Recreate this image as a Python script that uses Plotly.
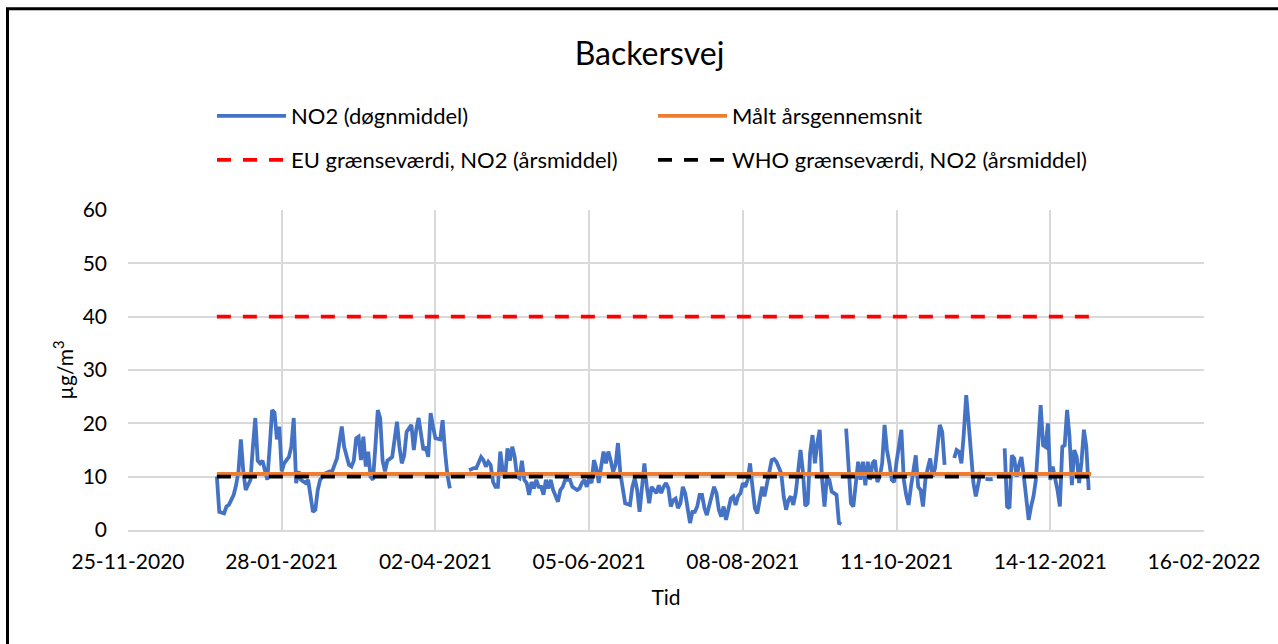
import pandas as pd
import plotly.graph_objects as go

# ---------------- data ----------------
station = "Backersvej"

day_of_year = [
    0, 1, 3, 4, 5, 7, 8, 9, 10, 11, 12, 14, 15, 16, 17, 18, 19, 21, 22, 23, 24, 25, 26, 27, 28,
    30, 31, 32, 33, 34, 35, 37, 38, 40, 41, 42, 43, 45, 47, 48, 50, 52, 53, 55, 56, 57, 58, 59,
    60, 61, 62, 63, 64, 65, 66, 67, 68, 69, 70, 71, 73, 74, 75, 76, 77, 78, 79, 81, 82, 83, 84,
    86, 87, 88, 89, 90, 91, 93, 94, 95, 96, 97, 100,
    105, 107, 108, 110, 111, 112, 113, 114, 115, 116, 117, 118, 119, 120, 121, 122, 123, 124,
    125, 126, 127, 128, 129, 130, 131, 132, 133, 134, 135, 136, 137, 138, 139, 140, 142, 143,
    144, 145, 147, 148, 150, 151, 152, 153, 154, 155, 156, 157, 158, 159, 160, 161, 162, 163,
    164, 165, 166, 167, 168, 169, 170, 172, 173, 174, 175, 176, 177, 178, 179, 180, 181, 182,
    183, 184, 185, 186, 187, 188, 189, 190, 191, 192, 193, 194, 195, 196, 197, 198, 199, 200,
    201, 202, 203, 204, 205, 207, 208, 209, 210, 211, 212, 213, 214, 215, 216, 217, 218, 219,
    220, 221, 222, 223, 224, 225, 226, 227, 228, 229, 230, 231, 232, 233, 235, 236, 237, 238,
    239, 240, 241, 242, 243, 244, 245, 246, 247, 248, 249, 250, 251, 252, 253, 254, 255, 256,
    257, 258, 259, 260, 261,
    262, 263, 264, 265, 266, 267, 268, 269, 270, 271, 272, 273, 274, 275, 276, 277, 278, 279,
    280, 281, 282, 283, 285, 286, 287, 288, 289, 290, 291, 292, 293, 294, 295, 296, 297, 298,
    299, 300, 301, 302, 303, 305,
    307, 308, 309, 310, 311, 312, 313, 314, 315, 316, 317, 318, 319,
    320, 321, 322, 323, 325,
    328, 329, 330, 331, 332, 333, 334, 335, 336, 338, 339, 340, 341, 342, 343, 344, 345, 346,
    347, 348, 349, 350, 351, 352, 353, 354, 355, 356, 357, 358, 359, 360, 361, 362, 363,
]

no2_daily = [
    10.0, 3.4, 3.1, 4.4, 4.7, 6.6, 8.4, 11.0, 17.0, 11.0, 7.5, 9.4, 15.6, 21.0, 13.0, 12.5, 13.0, 9.4, 15.6, 22.5, 22.0, 17.0, 19.4, 11.0, 12.5,
    13.7, 15.6, 21.0, 8.8, 11.0, 9.4, 8.8, 9.4, 3.4, 3.8, 7.5, 9.4, 10.6, 11.0, 11.0, 13.4, 19.4, 15.6, 12.2, 11.9, 13.0, 17.2, 17.5,
    13.1, 17.5, 11.9, 14.7, 10.0, 9.4, 15.6, 22.5, 21.0, 13.0, 11.0, 13.0, 13.7, 17.0, 20.3, 15.6, 12.5, 14.0, 18.4, 19.7, 15.0, 18.8, 21.0,
    15.0, 15.6, 13.7, 21.9, 19.4, 17.2, 17.0, 20.6, 14.7, 10.3, 7.8, None,
    11.2, 11.6, 11.6, 13.7, 13.1, 11.9, 12.8, 12.2, 9.0, 8.1, 8.1, 14.7, 11.2, 9.7, 15.3, 13.0, 15.6, 13.7,
    10.0, 9.7, 13.0, 9.4, 8.8, 6.6, 9.0, 7.8, 9.4, 8.1, 8.1, 6.6, 9.4, 7.8, 9.4, 7.5, 5.3, 7.5,
    8.1, 9.4, 9.4, 8.1, 7.5, 7.8, 8.8, 9.4, 8.1, 9.7, 8.8, 13.1, 11.6, 8.8, 11.9, 14.7, 12.5, 14.7,
    13.0, 10.9, 12.2, 16.3, 10.6, 7.5, 5.0, 4.7, 8.1, 9.7, 7.5, 3.4, 7.5, 12.5, 8.1, 5.0, 8.1, 7.5,
    6.9, 8.4, 6.9, 8.1, 8.8, 7.8, 4.4, 5.6, 5.9, 4.1, 5.0, 8.1, 6.9, 4.1, 1.3, 3.4, 3.4, 4.4,
    6.6, 6.6, 4.1, 2.8, 4.7, 8.1, 6.9, 3.8, 2.5, 4.4, 1.9, 4.1, 5.9, 6.3, 4.7, 6.3, 6.9, 8.8,
    8.1, 9.4, 12.5, 8.1, 4.1, 3.1, 5.6, 8.1, 6.3, 8.8, 10.6, 13.1, 13.3, 12.8, 10.6, 6.3, 3.8, 5.6,
    6.3, 4.7, 6.9, 11.9, 15.0, 11.0, 4.5, 5.0, 14.4, 17.8, 12.5, 16.3, 18.8, 9.4, 4.4, 10.0, 9.4, 7.2,
    6.9, 6.6, 1.3, 1.1, None,
    19.0, 10.6, 5.0, 4.4, 8.1, 12.8, 9.4, 12.8, 8.4, 12.8, 9.4, 12.5, 13.1, 9.0, 10.0, 12.5, 19.7, 15.0,
    12.5, 9.4, 9.0, 12.8, 18.8, 9.4, 6.6, 4.7, 8.1, 11.2, 14.0, 8.1, 7.5, 4.4, 9.4, 11.6, 13.4, 10.0,
    11.6, 15.6, 19.7, 18.4, 12.2, None,
    13.5, 15.0, 14.7, 12.5, 18.1, 25.3, 20.0, 13.7, 8.8, 6.3, 8.8, 10.9, None,
    9.6, 9.5, 9.5, 9.6, None,
    15.3, 4.4, 4.1, 14.0, 13.4, 10.0, 12.2, 13.7, 10.0, 1.9, 4.4, 6.3, 9.4, 15.6, 23.4, 15.9, 15.6, 20.0,
    9.4, 11.9, 10.0, 7.5, 4.4, 15.6, 15.9, 22.5, 17.5, 8.4, 15.0, 13.7, 8.8, 12.8, 18.8, 15.6, 7.5,
]

year_start = "2021-01-01"
year_end = "2021-12-31"
annual_mean = 10.5   # Målt årsgennemsnit
eu_limit = 40        # EU grænseværdi
who_limit = 10       # WHO grænseværdi

series_names = [
    "NO2 (døgnmiddel)",
    "Målt årsgennemsnit",
    "EU grænseværdi, NO2 (årsmiddel)",
    "WHO grænseværdi, NO2 (årsmiddel)",
]

x_axis_start = "2020-11-25"
x_axis_end = "2022-02-16"
x_tick_step_days = 64
y_max = 60
y_tick_step = 10

# ---------------- figure ----------------
dates = pd.Timestamp(year_start) + pd.to_timedelta(day_of_year, unit="D")
span = [year_start, year_end]

FONT = "Lato, 'Open Sans', sans-serif"
BLUE = "#4472C4"
ORANGE = "#ED7D31"
RED = "#FF0000"
BLACK = "#000000"
GRID = "#D9D9D9"
LW = 3.8

fig = go.Figure()
fig.add_trace(go.Scatter(x=dates, y=no2_daily, mode="lines", name=series_names[0],
                         line=dict(color=BLUE, width=LW), connectgaps=False, legend="legend"))
fig.add_trace(go.Scatter(x=span, y=[annual_mean] * 2, mode="lines", name=series_names[1],
                         line=dict(color=ORANGE, width=LW), legend="legend"))
fig.add_trace(go.Scatter(x=span, y=[eu_limit] * 2, mode="lines", name=series_names[2],
                         line=dict(color=RED, width=LW, dash="14px,12px"), legend="legend2"))
fig.add_trace(go.Scatter(x=span, y=[who_limit] * 2, mode="lines", name=series_names[3],
                         line=dict(color=BLACK, width=LW, dash="14px,12px"), legend="legend2"))

W, H = 1278, 644
L, R, T, B = 128, 74, 210, 114
plot_w = W - L - R
plot_h = H - T - B


def px_x(px):
    return (px - L) / plot_w


def px_y(py):
    return (H - B - py) / plot_h


legend_common = dict(
    orientation="h",
    xanchor="left",
    yanchor="middle",
    x=px_x(212),
    font=dict(family=FONT, size=22, color="black"),
    itemwidth=69,
    entrywidth=357,
    entrywidthmode="pixels",
    bgcolor="rgba(0,0,0,0)",
    borderwidth=0,
    itemclick=False,
    itemdoubleclick=False,
)

fig.update_layout(
    width=W,
    height=H,
    margin=dict(l=L, r=R, t=T, b=B, autoexpand=False),
    paper_bgcolor="white",
    plot_bgcolor="white",
    font=dict(family=FONT, size=21, color="#000000"),
    title=dict(text=station, x=649.5 / W, xanchor="center", xref="container",
               y=1 - 54 / H, yanchor="middle", yref="container",
               font=dict(family=FONT, size=32, color="black")),
    showlegend=True,
    legend=dict(**legend_common, y=px_y(116)),
    legend2=dict(**legend_common, y=px_y(160)),
    xaxis=dict(
        type="date",
        range=[x_axis_start, x_axis_end],
        tick0=x_axis_start,
        dtick=x_tick_step_days * 86400000,
        tickformat="%d-%m-%Y",
        showgrid=True,
        gridcolor=GRID,
        gridwidth=1.5,
        showline=True,
        linecolor=GRID,
        linewidth=1.5,
        zeroline=False,
        ticks="",
        ticklabelstandoff=12,
        tickfont=dict(family=FONT, size=21, color="black"),
        title=dict(text="Tid", font=dict(family=FONT, size=21, color="black"), standoff=18),
        automargin=False,
        fixedrange=True,
    ),
    yaxis=dict(
        range=[0, y_max],
        dtick=y_tick_step,
        tick0=0,
        showgrid=True,
        gridcolor=GRID,
        gridwidth=1.5,
        showline=False,
        zeroline=False,
        ticks="",
        ticklabelstandoff=20,
        tickfont=dict(family=FONT, size=21, color="black"),
        title=dict(text="µg/m<sup>3</sup>", font=dict(family=FONT, size=21, color="black"),
                   standoff=3),
        automargin=False,
        fixedrange=True,
    ),
    shapes=[
        dict(type="rect", xref="paper", yref="paper",
             x0=px_x(7.5), x1=px_x(1300), y0=px_y(8.8), y1=px_y(700),
             line=dict(color="black", width=3), fillcolor="rgba(0,0,0,0)", layer="above"),
    ],
)

fig.write_html("out.html", config={"displayModeBar": False},
               post_script="document.body.style.margin='0';")
